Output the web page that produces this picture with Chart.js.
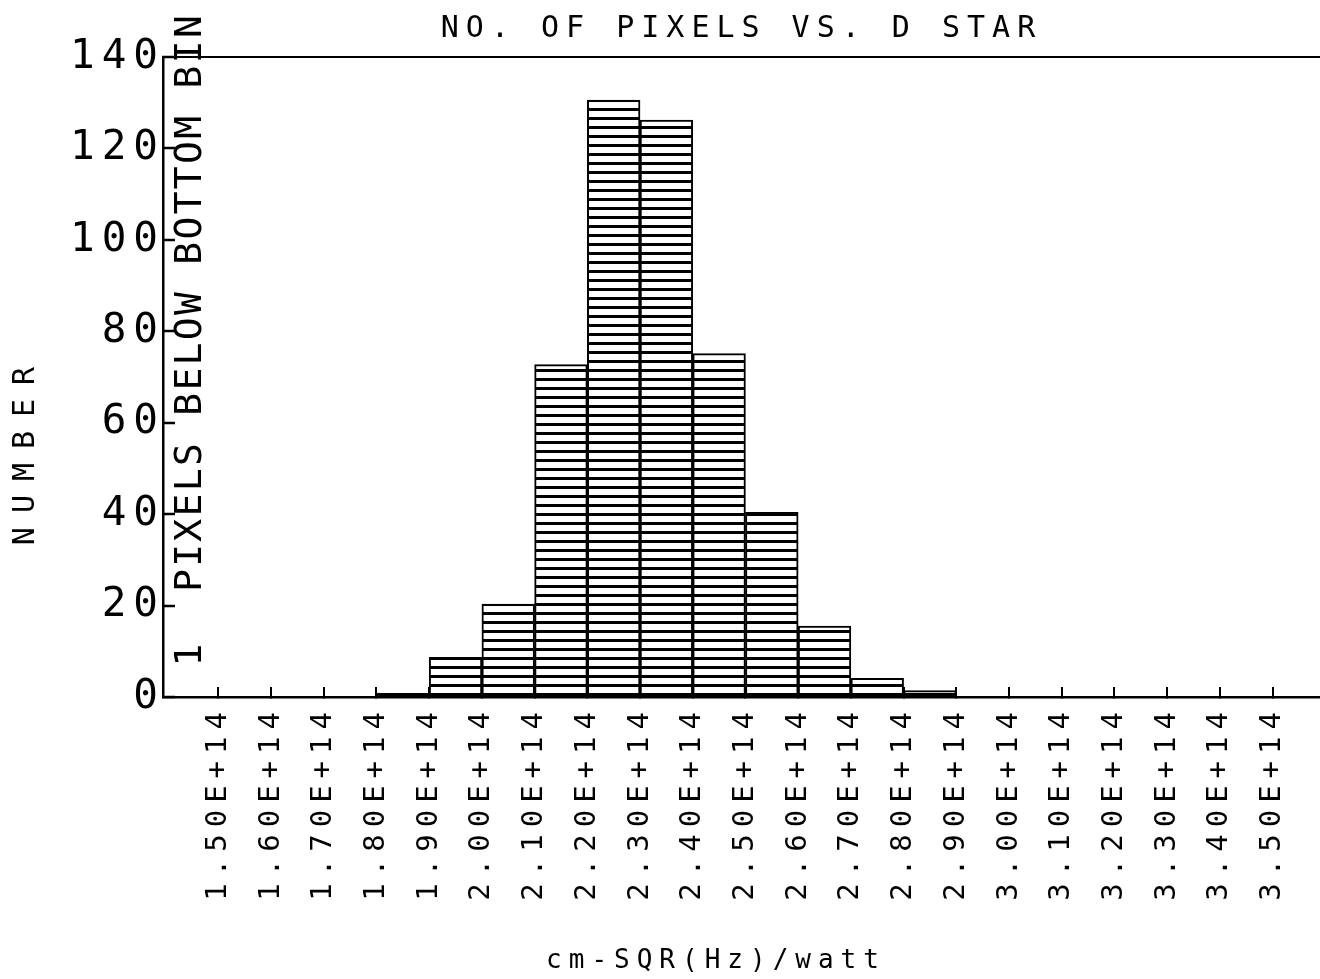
<!DOCTYPE html>
<html>
<head>
<meta charset="utf-8">
<script src="https://cdn.jsdelivr.net/npm/chart.js@4/dist/chart.umd.min.js"></script>
<style>
  body { margin: 0; background: #fff; }
  #hist { display: block; }
</style>
</head>
<body>
<canvas id="hist" width="1320" height="979"></canvas>
<script>
// bins are in units of 1E+14 cm-SQR(Hz)/watt, left edge of each bin
var binEdges = [1.8, 1.9, 2.0, 2.1, 2.2, 2.3, 2.4, 2.5, 2.6, 2.7, 2.8];
var pixelCounts = [0.8, 8.7, 20.3, 72.7, 130.6, 126.2, 75.1, 40.4, 15.5, 4.1, 1.4];
var binWidth = 0.1;

var tickValues = [1.5, 1.6, 1.7, 1.8, 1.9, 2.0, 2.1, 2.2, 2.3, 2.4, 2.5,
                  2.6, 2.7, 2.8, 2.9, 3.0, 3.1, 3.2, 3.3, 3.4, 3.5];
var tickLabels = ['1.50E+14', '1.60E+14', '1.70E+14', '1.80E+14', '1.90E+14', '2.00E+14',
                  '2.10E+14', '2.20E+14', '2.30E+14', '2.40E+14', '2.50E+14', '2.60E+14',
                  '2.70E+14', '2.80E+14', '2.90E+14', '3.00E+14', '3.10E+14', '3.20E+14',
                  '3.30E+14', '3.40E+14', '3.50E+14'];
var yTicks = [0, 20, 40, 60, 80, 100, 120, 140];

var belowBottomLabel = 'PIXELS BELOW BOTTOM BIN';
var belowBottomCount = '1';

var FONT = '"DejaVu Sans Mono", monospace';

// horizontal line hatching used by the plotter
function hatch() {
    var c = document.createElement('canvas');
    c.width = 4;
    c.height = 9;
    var g = c.getContext('2d');
    g.fillStyle = '#fff';
    g.fillRect(0, 0, 4, 9);
    g.fillStyle = '#000';
    g.fillRect(0, 0, 4, 3);
    return g.createPattern(c, 'repeat');
}

// wide plotter-style letter spacing for everything chart.js writes
var spacing = {
    id: 'spacing',
    beforeUpdate: function (chart) { chart.ctx.letterSpacing = '7px'; },
    beforeDraw: function (chart) { chart.ctx.letterSpacing = '7px'; }
};

var notes = {
    id: 'notes',
    afterDraw: function (chart) {
        var ctx = chart.ctx;
        ctx.save();
        ctx.fillStyle = '#000';
        ctx.textBaseline = 'middle';

        // note inside the plot, reading upwards
        ctx.save();
        ctx.font = '38px ' + FONT;
        ctx.letterSpacing = '2.3px';
        ctx.translate(191, 592);
        ctx.rotate(-Math.PI / 2);
        ctx.textAlign = 'left';
        ctx.fillText(belowBottomLabel, 0, 0);
        ctx.restore();

        ctx.save();
        ctx.font = '38px ' + FONT;
        ctx.letterSpacing = '0px';
        ctx.translate(191, 655);
        ctx.rotate(-Math.PI / 2);
        ctx.textAlign = 'center';
        ctx.fillText(belowBottomCount, 0, 0);
        ctx.restore();

        // y axis title
        ctx.save();
        ctx.font = '30px ' + FONT;
        ctx.letterSpacing = '14px';
        ctx.translate(26, 449);
        ctx.rotate(-Math.PI / 2);
        ctx.textAlign = 'center';
        ctx.fillText('NUMBER', 0, 0);
        ctx.restore();

        // x axis title
        ctx.font = '26px ' + FONT;
        ctx.letterSpacing = '7px';
        ctx.textAlign = 'center';
        ctx.fillText('cm-SQR(Hz)/watt', 716, 961);
        ctx.restore();
    }
};

var ctx = document.getElementById('hist').getContext('2d');

var histChart = new Chart(ctx, {
    type: 'bar',
    data: {
        datasets: [{
            label: 'pixels',
            data: binEdges.map(function (e, i) {
                return { x: e + binWidth / 2, y: pixelCounts[i] };
            }),
            backgroundColor: hatch(),
            borderColor: '#000',
            borderWidth: 2,
            barPercentage: 1,
            categoryPercentage: 1
        }]
    },
    options: {
        responsive: false,
        animation: false,
        layout: { padding: 0 },
        plugins: {
            legend: { display: false },
            tooltip: { enabled: false },
            title: {
                display: true,
                fullSize: false,
                text: 'NO. OF PIXELS VS. D STAR',
                color: '#000',
                font: { family: FONT, size: 30, weight: 'normal' },
                padding: { top: 11, bottom: 10 }
            }
        },
        scales: {
            x: {
                type: 'linear',
                min: 1.395,
                max: 3.59,
                offset: false,
                afterBuildTicks: function (s) {
                    s.ticks = tickValues.map(function (v) { return { value: v }; });
                },
                afterFit: function (s) {
                    s.height = 282;
                    s.paddingLeft = 0;
                    s.paddingRight = 0;
                },
                ticks: {
                    autoSkip: false,
                    minRotation: 90,
                    maxRotation: 90,
                    padding: 18,
                    color: '#000',
                    font: { family: FONT, size: 29 },
                    callback: function (v, i) { return tickLabels[i]; }
                },
                grid: {
                    offset: false,
                    drawOnChartArea: false,
                    color: '#000',
                    lineWidth: 2,
                    tickLength: -10
                },
                border: { display: true, color: '#000', width: 2.5 }
            },
            y: {
                min: 0,
                max: 140,
                afterBuildTicks: function (s) {
                    s.ticks = yTicks.map(function (v) { return { value: v }; });
                },
                afterFit: function (s) { s.width = 163; },
                ticks: {
                    padding: 10,
                    color: '#000',
                    font: { family: FONT, size: 41 }
                },
                grid: {
                    color: function (c) { return c.tick && c.tick.value === 140 ? '#000' : 'rgba(0,0,0,0)'; },
                    tickColor: '#000',
                    tickWidth: 2.5,
                    lineWidth: 2,
                    tickLength: -12
                },
                border: { display: true, color: '#000', width: 2.5 }
            }
        }
    },
    plugins: [spacing, notes]
});
</script>
</body>
</html>
